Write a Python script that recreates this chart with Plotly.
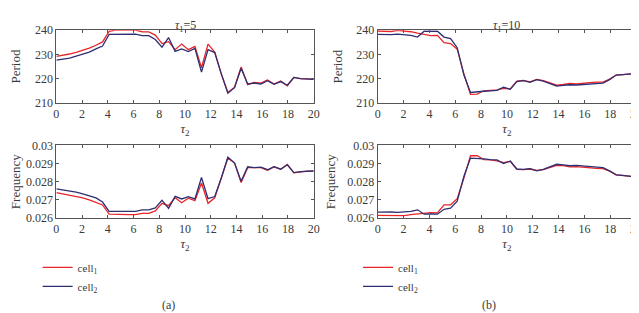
import plotly.graph_objects as go

tau2 = [0, 0.51, 1.03, 1.54, 2.05, 2.56, 3.08, 3.59, 4.10, 4.62, 5.13, 5.64, 6.15, 6.67, 7.18, 7.69,
        8.21, 8.72, 9.23, 9.74, 10.26, 10.77, 11.28, 11.79, 12.31, 12.82, 13.33, 13.85, 14.36, 14.87,
        15.38, 15.90, 16.41, 16.92, 17.44, 17.95, 18.46, 18.97, 19.49, 20]

# Panel (a): tau1 = 5
period_a_cell1 = [229.2, 229.6, 230.2, 230.9, 231.6, 232.6, 233.8, 235.2, 239.6, 240.1, 240.1, 240.1, 240.1,
                  239.4, 239.3, 238.0, 234.5, 235.3, 232.0, 234.3, 232.0, 233.3, 224.5, 234.3, 231.0,
                  222.0, 214.3, 216.5, 224.8, 217.5, 218.5, 218.2, 219.5, 217.8, 219.0, 217.0, 220.5,
                  220.0, 219.8, 219.8]
period_a_cell2 = [227.7, 228.0, 228.5, 229.3, 230.0, 231.0, 232.3, 233.5, 238.3, 238.4, 238.4, 238.4, 238.4,
                  237.8, 237.8, 236.2, 233.0, 237.0, 231.3, 232.3, 231.2, 232.5, 222.7, 232.0, 230.8,
                  222.0, 214.0, 216.3, 224.3, 217.8, 218.2, 217.8, 219.2, 217.7, 218.8, 217.3, 220.5,
                  220.0, 219.7, 219.7]
freq_a_cell1 = [0.02740, 0.02733, 0.02726, 0.02719, 0.02711, 0.02700, 0.02686, 0.02672, 0.02621, 0.02619,
                0.02618, 0.02618, 0.02618, 0.02625, 0.02625, 0.02639, 0.02681, 0.02668, 0.02712, 0.02684,
                0.02709, 0.02696, 0.02793, 0.02681, 0.02711, 0.02816, 0.02930, 0.02904, 0.02795, 0.02877,
                0.02875, 0.02877, 0.02863, 0.02882, 0.02868, 0.02895, 0.02849, 0.02855, 0.02858, 0.02858]
freq_a_cell2 = [0.02760, 0.02755, 0.02749, 0.02742, 0.02733, 0.02724, 0.02711, 0.02688, 0.02637, 0.02637,
                0.02636, 0.02636, 0.02636, 0.02645, 0.02645, 0.02656, 0.02698, 0.02653, 0.02719, 0.02705,
                0.02718, 0.02705, 0.02823, 0.02707, 0.02718, 0.02820, 0.02935, 0.02903, 0.02802, 0.02882,
                0.02877, 0.02880, 0.02866, 0.02883, 0.02869, 0.02893, 0.02850, 0.02856, 0.02858, 0.02859]

# Panel (b): tau1 = 10
period_b_cell1 = [239.7, 239.5, 239.5, 240.0, 239.8, 239.4, 238.8, 238.2, 237.8, 237.9, 234.9, 234.5, 232.2,
                  222.0, 213.5, 213.6, 215.0, 215.2, 215.4, 216.0, 215.8, 219.0, 219.3, 218.7, 219.7,
                  219.2, 218.2, 217.3, 217.6, 218.0, 217.8, 218.2, 218.4, 218.6, 218.6, 219.8, 221.5,
                  221.7, 222.0, 222.2]
period_b_cell2 = [238.3, 238.1, 238.2, 238.4, 238.3, 237.9, 237.2, 239.6, 239.6, 239.6, 237.2, 236.6, 232.8,
                  221.5, 214.3, 214.4, 214.8, 215.0, 215.2, 216.5, 215.6, 218.8, 219.2, 218.5, 219.6,
                  219.0, 218.0, 216.9, 217.2, 217.5, 217.4, 217.6, 217.9, 218.0, 218.2, 219.6, 221.5,
                  221.7, 222.0, 222.2]
freq_b_cell1 = [0.02614, 0.02614, 0.02613, 0.02611, 0.02613, 0.02618, 0.02623, 0.02628, 0.02630, 0.02628,
                0.02672, 0.02673, 0.02706, 0.02820, 0.02944, 0.02943, 0.02922, 0.02920, 0.02915, 0.02905,
                0.02912, 0.02868, 0.02866, 0.02870, 0.02862, 0.02866, 0.02876, 0.02890, 0.02888, 0.02882,
                0.02883, 0.02879, 0.02877, 0.02873, 0.02872, 0.02858, 0.02838, 0.02835, 0.02830, 0.02826]
freq_b_cell2 = [0.02632, 0.02634, 0.02633, 0.02631, 0.02634, 0.02637, 0.02645, 0.02621, 0.02622, 0.02621,
                0.02648, 0.02654, 0.02692, 0.02830, 0.02930, 0.02930, 0.02926, 0.02922, 0.02920, 0.02900,
                0.02914, 0.02870, 0.02868, 0.02872, 0.02860, 0.02868, 0.02880, 0.02896, 0.02893, 0.02888,
                0.02890, 0.02887, 0.02882, 0.02880, 0.02877, 0.02860, 0.02838, 0.02835, 0.02830, 0.02826]

period_ticks = [210, 220, 230, 240]
freq_ticks = [0.026, 0.027, 0.028, 0.029, 0.03]
freq_ticktext = ["0.026", "0.027", "0.028", "0.029", "0.03"]
x_ticks = [0, 2, 4, 6, 8, 10, 12, 14, 16, 18, 20]

RED = "#e8262a"
BLUE = "#2e2f72"
FONT = "Liberation Serif, Times New Roman, DejaVu Serif, serif"
TXT = "#3a3a3a"
W, H = 639, 313

fig = go.Figure()

def add(x, y, xa, ya, color, name, legend, show):
    fig.add_trace(go.Scatter(x=x, y=y, xaxis=xa, yaxis=ya, mode="lines",
                             line=dict(color=color, width=1.3), name=name,
                             legend=legend, showlegend=show))

c1 = "cell<sub>1</sub>"
c2 = "cell<sub>2</sub>"
add(tau2, period_a_cell1, "x", "y", RED, c1, "legend", True)
add(tau2, period_a_cell2, "x", "y", BLUE, c2, "legend", True)
add(tau2, freq_a_cell1, "x2", "y2", RED, c1, "legend", False)
add(tau2, freq_a_cell2, "x2", "y2", BLUE, c2, "legend", False)
add(tau2, period_b_cell1, "x3", "y3", RED, c1, "legend2", True)
add(tau2, period_b_cell2, "x3", "y3", BLUE, c2, "legend2", True)
add(tau2, freq_b_cell1, "x4", "y4", RED, c1, "legend2", False)
add(tau2, freq_b_cell2, "x4", "y4", BLUE, c2, "legend2", False)

def px_x(p):
    return p / W

def px_y(p):
    return 1 - p / H

xa_dom = [px_x(46), px_x(307)]
xb_dom = [px_x(372), px_x(634)]
top_dom = [px_y(92), px_y(16)]
bot_dom = [px_y(212.5), px_y(136.5)]

tickfont = dict(family=FONT, size=12, color=TXT)
titlefont = dict(family=FONT, size=13, color=TXT)
common_x = dict(range=[0, 20], tickvals=x_ticks, ticks="inside", ticklen=3, mirror="ticks",
                showline=True, linecolor="#555", linewidth=1, showgrid=False, zeroline=False,
                tickfont=tickfont, tickcolor="#555", ticklabeloverflow="allow",
                title=dict(text="<i>τ</i><sub>2</sub>", font=titlefont, standoff=3))
common_y = dict(ticks="inside", ticklen=3, mirror="ticks", showline=True, linecolor="#555", linewidth=1,
                showgrid=False, zeroline=False, tickfont=tickfont, tickcolor="#555")

fig.update_layout(
    xaxis=dict(domain=xa_dom, anchor="y", **common_x),
    xaxis2=dict(domain=xa_dom, anchor="y2", **common_x),
    xaxis3=dict(domain=xb_dom, anchor="y3", **common_x),
    xaxis4=dict(domain=xb_dom, anchor="y4", **common_x),
    yaxis=dict(domain=top_dom, anchor="x", range=[210, 240], tickvals=period_ticks,
               title=dict(text="Period", font=titlefont, standoff=11), **common_y),
    yaxis2=dict(domain=bot_dom, anchor="x2", range=[0.026, 0.03], tickvals=freq_ticks, ticktext=freq_ticktext,
                title=dict(text="Frequency", font=titlefont, standoff=9), **common_y),
    yaxis3=dict(domain=top_dom, anchor="x3", range=[210, 240], tickvals=period_ticks,
                title=dict(text="Period", font=titlefont, standoff=10), **common_y),
    yaxis4=dict(domain=bot_dom, anchor="x4", range=[0.026, 0.03], tickvals=freq_ticks, ticktext=freq_ticktext,
                title=dict(text="Frequency", font=titlefont, standoff=8), **common_y),
    legend=dict(x=px_x(27), y=px_y(249), xanchor="left", yanchor="top", bgcolor="rgba(0,0,0,0)",
                font=dict(family=FONT, size=11, color=TXT), tracegroupgap=0, itemwidth=30),
    legend2=dict(x=px_x(352), y=px_y(249), xanchor="left", yanchor="top", bgcolor="rgba(0,0,0,0)",
                 font=dict(family=FONT, size=11, color=TXT), tracegroupgap=0, itemwidth=30),
    width=W, height=H, margin=dict(l=0, r=0, t=0, b=0),
    paper_bgcolor="white", plot_bgcolor="white",
    annotations=[
        dict(text="<i>τ</i><sub>1</sub>=5", x=(xa_dom[0] + xa_dom[1]) / 2, y=px_y(1), xref="paper", yref="paper",
             xanchor="center", yanchor="top", showarrow=False, font=dict(family=FONT, size=12, color=TXT)),
        dict(text="<i>τ</i><sub>1</sub>=10", x=(xb_dom[0] + xb_dom[1]) / 2, y=px_y(1), xref="paper", yref="paper",
             xanchor="center", yanchor="top", showarrow=False, font=dict(family=FONT, size=12, color=TXT)),
        dict(text="(a)", x=px_x(160), y=px_y(304), xref="paper", yref="paper", xanchor="center", yanchor="middle",
             showarrow=False, font=dict(family=FONT, size=12, color=TXT)),
        dict(text="(b)", x=px_x(485), y=px_y(304), xref="paper", yref="paper", xanchor="center", yanchor="middle",
             showarrow=False, font=dict(family=FONT, size=12, color=TXT)),
    ],
)

fig.write_html("out.html")
